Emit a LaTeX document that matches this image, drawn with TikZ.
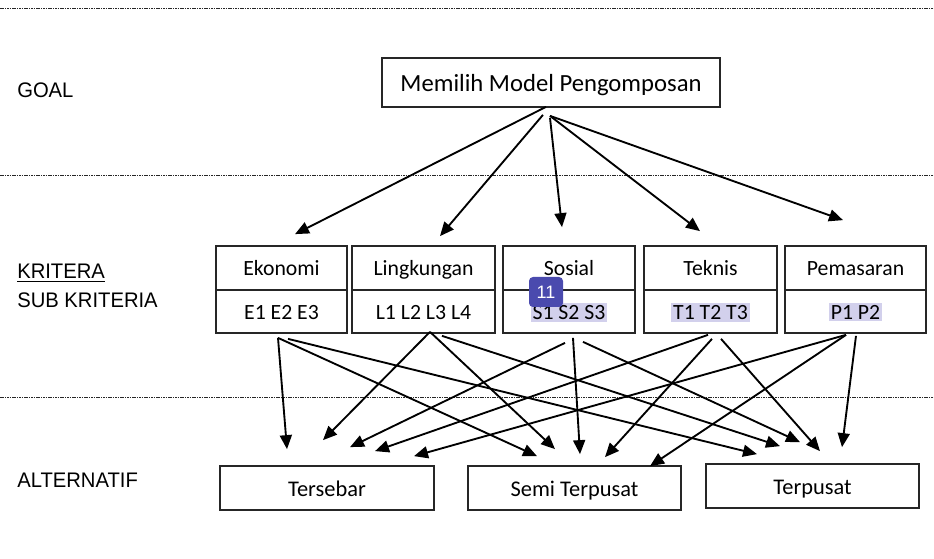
\documentclass[tikz,border=0pt]{standalone}
\usepackage{fontspec}
\setmainfont{Carlito}
\newfontfamily\labelfont[FakeStretch=0.96]{Liberation Sans}
\newfontfamily\badgefont{Liberation Sans}
\usepackage{tikz}
\usetikzlibrary{arrows.meta,backgrounds,calc}
\definecolor{sorot}{RGB}{210,208,236}
\definecolor{lencana}{RGB}{74,74,174}
\newcommand{\tandai}[1]{{\setlength{\fboxsep}{1.5pt}\colorbox{sorot}{#1}}}

\begin{document}
\begin{tikzpicture}[x=0.75pt,y=-0.75pt,
  kotak/.style={draw=black!85,line width=1.3pt,inner sep=0pt,text height=12pt,text depth=0pt,font=\fontsize{16.3}{19}\selectfont},
  krit/.style={kotak,minimum height=33pt},
  sub/.style={kotak,minimum height=32.25pt},
  alt/.style={kotak,minimum width=160pt,minimum height=33pt,font=\fontsize{16.8}{20}\selectfont},
  lbl/.style={anchor=base west,inner sep=0pt,font=\labelfont\fontsize{15.8}{18}\selectfont},
  panah/.style={line width=1.4pt,-{Triangle[length=10.5pt,width=9pt]}},
  garis/.style={line width=0.7pt,black!85,dash pattern=on 1.2pt off 0.6pt}]

\useasboundingbox (0,0) rectangle (934,559);

% garis pemisah tingkat
\foreach \y in {8,175,397}
  \draw[garis] (0,\y) -- (934,\y);

% label tingkat
\node[lbl] (lblgoal) at (17,98) {GOAL};
\node[lbl] (lblkrit) at (17,279) {\underline{KRITERA}};
\node[lbl] (lblsub) at (17,307) {SUB KRITERIA};
\node[lbl] (lblalt) at (17,487) {ALTERNATIF};

% goal
\node[kotak,minimum width=253.5pt,minimum height=36.75pt,text height=14pt,font=\fontsize{18.5}{22}\selectfont] (goal) at (551,82.5) {Memilih Model Pengomposan};

% kriteria dan sub kriteria
\node[krit,minimum width=98.25pt] (eko) at (281.5,268) {Ekonomi};
\node[sub,minimum width=98.25pt] (ekosub) at (281.5,311.5) {E1 E2 E3};
\node[krit,minimum width=107.25pt] (ling) at (423.5,268) {Lingkungan};
\node[sub,minimum width=107.25pt] (lingsub) at (423.5,311.5) {L1 L2 L3 L4};
\node[krit,minimum width=99pt] (sos) at (569,268) {Sosial};
\node[sub,minimum width=99pt] (sossub) at (569,311.5) {\tandai{S1 S2 S3}};
\node[krit,minimum width=99.75pt] (tek) at (710.5,268) {Teknis};
\node[sub,minimum width=99.75pt] (teksub) at (710.5,311.5) {\tandai{T1 T2 T3}};
\node[krit,minimum width=105.75pt] (pem) at (855.5,268) {Pemasaran};
\node[sub,minimum width=105.75pt] (pemsub) at (855.5,311.5) {\tandai{P1 P2}};

% alternatif
\node[alt] (tersebar) at (327,488) {Tersebar};
\node[alt] (semi) at (574.5,488) {Semi Terpusat};
\node[alt] (terpusat) at (812.5,486) {Terpusat};

% goal ke kriteria
\draw[panah] ([shift={(-5,-1)}]goal.south) -- ([shift={(13.5,-11)}]eko.north);
\draw[panah] ([shift={(-8,7)}]goal.south) -- ([shift={(16.5,-9)}]ling.north);
\draw[panah] ([shift={(-1,10)}]goal.south) -- ([shift={(-7,-18)}]sos.north);
\draw[panah] ([shift={(-1,8)}]goal.south) -- ([shift={(-10.5,-14)}]tek.north);
\draw[panah] ([shift={(-1,8)}]goal.south) -- ([shift={(-12.5,-25)}]pem.north);

% sub kriteria ke alternatif
\draw[panah] ([shift={(-3.5,4)}]ekosub.south) -- ([shift={(-40,-16)}]tersebar.north);
\draw[panah] ([shift={(-3.5,4)}]ekosub.south) -- ([shift={(-37.5,-9)}]semi.north);
\draw[panah] ([shift={(6.5,5)}]ekosub.south) -- ([shift={(-55.5,-9)}]terpusat.north);

\draw[panah] ([shift={(6.5,-2)}]lingsub.south) -- ([shift={(-4,-25)}]tersebar.north);
\draw[panah] ([shift={(6.5,-2)}]lingsub.south) -- ([shift={(-19.5,-16)}]semi.north);
\draw[panah] ([shift={(18.5,2)}]lingsub.south) -- ([shift={(-32.5,-17)}]terpusat.north);

\draw[panah] ([shift={(-4,9)}]sossub.south) -- ([shift={(23,-18)}]tersebar.north);
\draw[panah] ([shift={(4,4)}]sossub.south) -- ([shift={(5.5,-11)}]semi.north);
\draw[panah] ([shift={(14,8)}]sossub.south) -- ([shift={(-12.5,-21)}]terpusat.north);

\draw[panah] ([shift={(-2.5,1)}]teksub.south) -- ([shift={(48,-14)}]tersebar.north);
\draw[panah] ([shift={(1.5,5)}]teksub.south) -- ([shift={(30.5,-8)}]semi.north);
\draw[panah] ([shift={(10.5,5)}]teksub.south) -- ([shift={(7.5,-12)}]terpusat.north);

\draw[panah] ([shift={(-9.5,1)}]pemsub.south) -- ([shift={(87,-9)}]tersebar.north);
\draw[panah] ([shift={(-9.5,1)}]pemsub.south) -- ([shift={(75.5,1)}]semi.north);
\draw[panah] ([shift={(0.5,2)}]pemsub.south) -- ([shift={(29.5,-16)}]terpusat.north);

% lencana
\node[fill=lencana,rounded corners=3pt,minimum width=25.5pt,minimum height=22.5pt,inner sep=0pt,text=white,font=\badgefont\fontsize{13.5}{16}\selectfont] (badge) at ([shift={(-23,-19.5)}]sossub.center) {11};
\end{tikzpicture}
\end{document}
